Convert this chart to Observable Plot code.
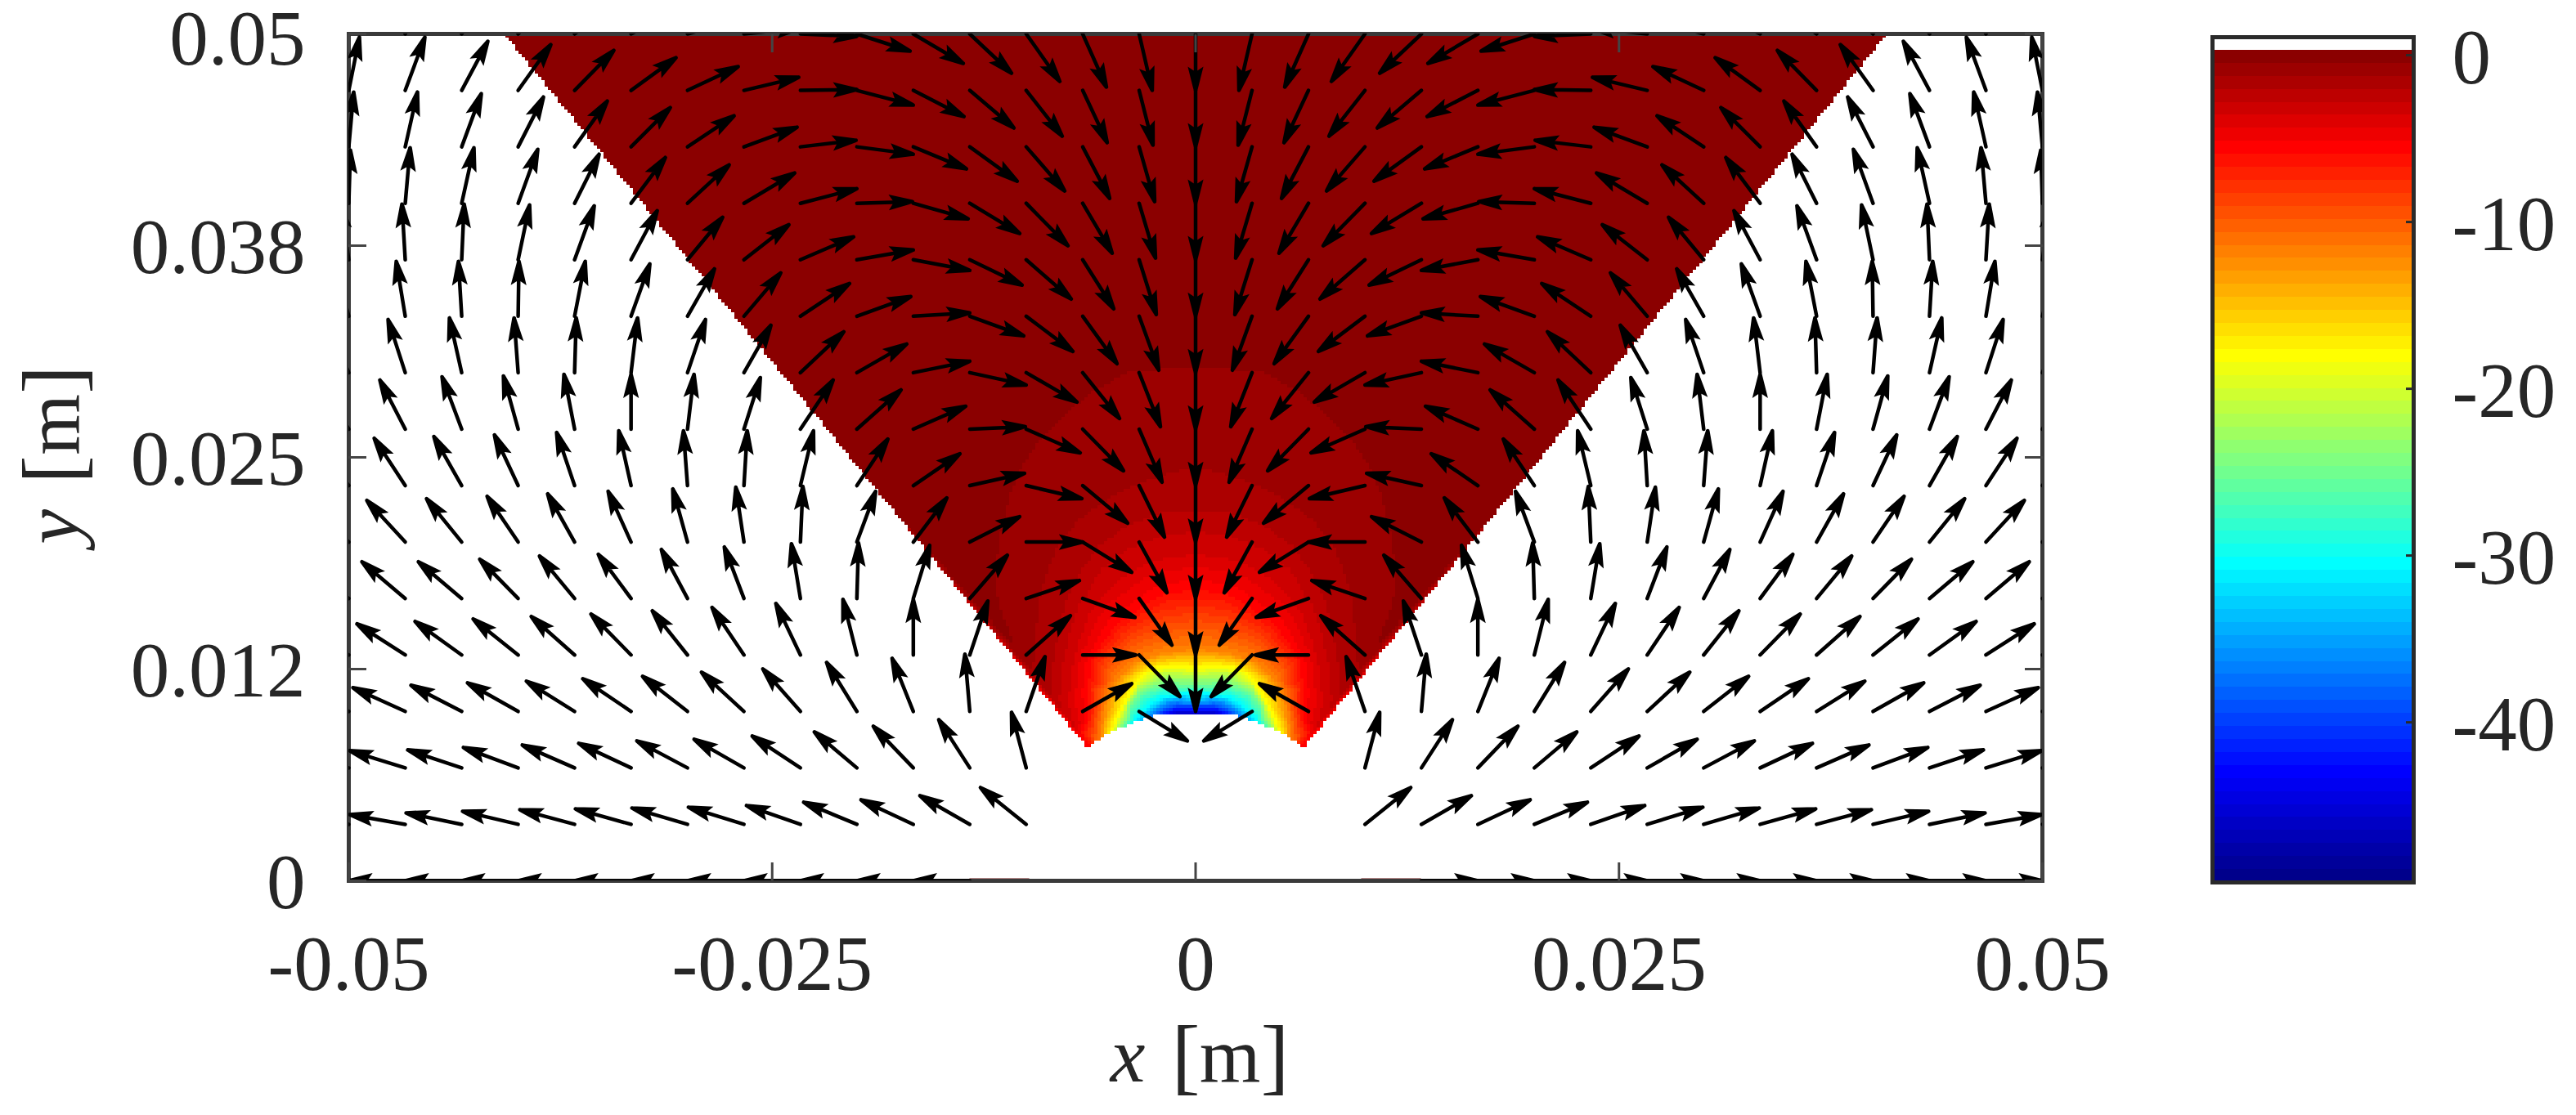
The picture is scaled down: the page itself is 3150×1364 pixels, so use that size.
<!DOCTYPE html>
<html>
<head>
<meta charset="utf-8">
<script src="https://cdn.jsdelivr.net/npm/d3@7"></script>
<script src="https://cdn.jsdelivr.net/npm/@observablehq/plot@0.6"></script>
<style>
html,body{margin:0;padding:0;background:#fff;overflow:hidden}
#chart{display:flex;width:3150px;height:1364px}
svg{display:block;flex:none}
</style>
</head>
<body>
<div id="chart"></div>
<script>
// ---- axes ----
const xTicks = [-0.05, -0.025, 0, 0.025, 0.05];
const xTickLabels = ["-0.05", "-0.025", "0", "0.025", "0.05"];
const yTicks = [0, 0.0125, 0.025, 0.0375, 0.05];
const yTickLabels = ["0", "0.012", "0.025", "0.038", "0.05"];
const barTicks = [0, -10, -20, -30, -40];

// ---- quiver field: left half, rows from y=0.05 down to y=0, columns x=-0.05 ... x=0.
// one grid spacing (0.1/30 m) = 69 units
const uRows = [
 [19,30,39,47,54,61,66,69,69,65,61,51,41,29,16,0],
 [13,24,32,40,48,55,62,67,69,69,62,54,44,30,17,0],
 [6,15,24,31,40,48,57,65,68,69,65,58,47,33,19,0],
 [2,6,15,24,30,42,51,62,69,68,67,61,51,36,20,0],
 [-10,-4,3,14,24,32,43,55,65,69,69,64,55,38,21,0],
 [-18,-11,-4,1,13,23,33,45,60,66,69,66,57,42,24,0],
 [-28,-21,-15,-5,2,8,22,33,53,61,69,69,62,45,26,0],
 [-36,-31,-24,-18,-13,0,8,20,40,54,64,68,66,50,28,0],
 [-43,-38,-34,-29,-22,-15,-5,4,16,38,57,67,68,55,31,0],
 [-50,-47,-43,-38,-33,-28,-18,-10,3,23,41,61,69,60,34,0],
 [-56,-53,-53,-47,-43,-40,-32,-24,-11,2,20,46,65,64,40,0],
 [-61,-59,-57,-55,-53,-49,-43,-39,-30,-17,0,22,54,65,50,0],
 [-65,-64,-62,-62,-59,-59,-55,-52,-46,-37,-26,-6,23,60,59,null],
 [-68,-68,-66,-67,-64,-64,-62,-61,-59,-52,-49,-38,-18,null,null,null],
 [-68,-68,-68,-68,-67,-68,-68,-68,-66,-65,-64,-61,-56,null,null,null],
 [-69,-69,-69,-69,-69,-69,-69,-69,-69,-69,-69,-69,null,null,null,null]
];
const vRows = [
 [65,62,57,50,41,30,18,7,-3,-21,-36,-48,-58,-65,-69,-69],
 [65,65,60,56,49,40,29,16,1,-18,-32,-46,-56,-64,-67,-69],
 [67,67,65,61,56,48,38,24,8,-9,-27,-42,-54,-63,-67,-69],
 [65,68,68,66,60,56,47,37,18,2,-19,-37,-52,-61,-67,-69],
 [67,68,68,67,66,60,52,43,28,12,-13,-31,-48,-60,-67,-69],
 [65,67,67,67,67,64,58,53,40,24,4,-24,-43,-58,-66,-69],
 [62,65,67,67,67,67,65,58,50,35,14,-15,-36,-56,-66,-69],
 [59,60,64,65,67,67,67,63,60,48,28,3,-29,-51,-65,-69],
 [53,58,60,62,65,67,67,67,67,57,39,15,-16,-46,-63,-69],
 [47,51,53,56,59,62,65,67,68,62,54,31,0,-37,-62,-69],
 [40,45,45,48,52,54,60,63,67,68,65,53,22,-23,-57,-69],
 [32,38,41,44,47,50,54,58,63,68,68,66,48,0,-51,-69],
 [26,29,32,35,37,40,43,48,52,60,65,70,67,34,-36,null],
 [19,21,22,25,28,30,33,35,39,44,51,59,68,null,null,null],
 [11,12,14,16,18,19,20,21,23,27,30,35,45,null,null,null],
 [0,0,0,0,0,0,0,0,0,0,0,0,null,null,null,null]
];

// ---- field value, iso-lines (left half, [x, y] in m)
const isoLevels = [0, -0.48, -1.26, -2.04, -3.6, -5.6, -12, -18.4, -25, -31, -40, -47];
const isoLines = [
 [[0,.05],[-.0409,.05],[-.03,.0366],[-.02,.0245],[-.015,.0189],[-.02,.04],[-.01,.04],[0,.04],[-.015,.03],[0,.035]],
 [[0,.03036],[-.00394,.0301],[-.0062,.0288],[-.0079,.0274],[-.0094,.0258],[-.01036,.0243],[-.011,.0227],[-.0115,.0205],[-.0118,.0185],[-.01166,.0166],[-.0107,.0138]],
 [[0,.0245],[-.00297,.02365],[-.00523,.02254],[-.00698,.02124],[-.00813,.0198],[-.00876,.0182],[-.00925,.0166],[-.0094,.01467],[-.0095,.01303],[-.0098,.0125]],
 [[0,.0219],[-.00215,.02172],[-.00408,.02095],[-.00572,.0198],[-.00683,.0182],[-.00765,.0166],[-.00804,.015],[-.00838,.01303],[-.0086,.0109]],
 [[0,.0193],[-.0021,.019],[-.0038,.0183],[-.0052,.0172],[-.0063,.0157],[-.00695,.014],[-.0073,.0125],[-.0075,.0105],[-.0071,.009]],
 [[0,.01737],[-.002,.0171],[-.0033,.01626],[-.00475,.0153],[-.00553,.0142],[-.0062,.0132],[-.00645,.01144],[-.00635,.00985],[-.0063,.0080]],
 [[0,.0137],[-.00185,.0135],[-.00345,.013],[-.00457,.01207],[-.00522,.01095],[-.00548,.00965],[-.0056,.00825]],
 [[0,.0125],[-.00137,.01264],[-.0025,.0125],[-.0033,.0119],[-.0038,.0111],[-.00426,.0103],[-.00466,.0095],[-.005,.0086]],
 [[0,.01158],[-.00185,.01168],[-.0033,.0111],[-.0039,.0103],[-.0043,.0091]],
 [[0,.0108],[-.00185,.01086],[-.0028,.0103],[-.0036,.0094]],
 [[0,.0103],[-.0012,.0103],[-.0021,.0099]],
 [[0,.0098],[-.0012,.0098]]
];
// outline of the coloured wedge, left half
const wedgeOutline = [[-.0412,.0505],[-.0064,.0079],[-.0052,.0087],[-.0036,.0094],[-.0021,.0099],[0,.0099]];

// ---- colours
const jetIndex = [0, 8, 24, 40, 56, 63];
const jetStops = ["#00008b", "#0000ff", "#00ffff", "#ffff00", "#ff0000", "#8b0000"];
const barMin = -49.6, barMax = 0.3, barTop = 1.08, bandCount = 64;

// ---- derived tables
const step = 0.1 / 30;
const arrows = [];
uRows.forEach((row, r) => {
  const y = step * (15 - r);
  row.forEach((u, c) => {
    if (u == null) return;
    const v = vRows[r][c];
    const x = -0.05 + step * c;
    const len = Math.hypot(u, v), rot = Math.atan2(u, v) * 180 / Math.PI;
    arrows.push({x, y, len, rot});
    if (c < 15) arrows.push({x: -x, y, len, rot: -rot});
  });
});
const samples = [];
isoLines.forEach((line, i) => line.forEach(([x, y]) => {
  samples.push({x, y, v: isoLevels[i]});
  if (x !== 0) samples.push({x: -x, y, v: isoLevels[i]});
}));
const wedge = [...wedgeOutline, ...wedgeOutline.slice(0, -1).reverse().map(([x, y]) => [-x, y])];
const jetScale = d3.scaleLinear().domain(jetIndex).range(jetStops).interpolate(d3.interpolateRgb);
const jet = d3.range(bandCount).map(i => jetScale(i));
const colorOptions = {type: "quantize", domain: [barMin, barMax], range: jet};
const bandH = (barMax - barMin) / bandCount;
const bands = d3.range(bandCount).map(i => ({lo: barMin + i * bandH, hi: barMin + (i + 1) * bandH}));

const barycentric = Plot.interpolatorBarycentric();
const wedgeInterpolate = (index, w, h, X, Y, V) => {
  const W = barycentric(index, w, h, X, Y, V);
  for (let j = 0; j < h; ++j) for (let i = 0; i < w; ++i) {
    const x = -0.05 + (i + 0.5) / w * 0.1, y = 0.05 - (j + 0.5) / h * 0.05;
    if (!d3.polygonContains(wedge, [x, y])) W[i + j * w] = NaN;
  }
  return W;
};

// quiver glyph: shaft plus filled, slightly swept head
const quiverShape = {
  draw(ctx, l) {
    ctx.moveTo(0, 0);
    ctx.lineTo(0, -l);
    ctx.moveTo(0, -l);
    ctx.lineTo(6, -l + 24);
    ctx.lineTo(0, -l + 20);
    ctx.lineTo(-6, -l + 24);
    ctx.closePath();
  }
};

const serif = "Liberation Serif", ink = "#262626", fs = 95;
const lookup = (ticks, labels) => d => labels[ticks.indexOf(d)];
const part = {textAnchor: "middle", lineAnchor: "middle", fontFamily: serif, fill: ink};
const tickLine = {stroke: "#444", strokeWidth: 3, label: null};

const main = Plot.plot({
  width: 2640, height: 1364,
  marginLeft: 426, marginRight: 143, marginTop: 41, marginBottom: 287,
  x: {domain: [-0.05, 0.05], label: null},
  y: {domain: [0, 0.05], label: null},
  length: {type: "identity"},
  color: colorOptions,
  style: {background: "#fff", fontFamily: serif},
  marks: [
    Plot.raster(samples, {x: "x", y: "y", fill: "v", pixelSize: 4, interpolate: wedgeInterpolate, imageRendering: "pixelated"}),
    Plot.ruleY([0], {x1: -0.01333, x2: -0.00980, stroke: "#6e1010", strokeWidth: 6, clip: true}),
    Plot.ruleY([0], {x1: 0.00980, x2: 0.01333, stroke: "#6e1010", strokeWidth: 6, clip: true}),
    Plot.frame({stroke: "#3a3a3a", strokeWidth: 5}),
    Plot.vector(arrows, {x: "x", y: "y", length: "len", rotate: "rot", anchor: "start", shape: quiverShape, stroke: "#000", fill: "#000", strokeWidth: 4.5, strokeLinejoin: "miter", clip: true}),
    Plot.axisX({anchor: "bottom", ticks: xTicks, tickSize: -22, tickFormat: () => "", ...tickLine}),
    Plot.axisX({anchor: "top", ticks: xTicks, tickSize: -22, tickFormat: () => "", ...tickLine}),
    Plot.axisY({anchor: "left", ticks: yTicks, tickSize: -22, tickFormat: () => "", ...tickLine}),
    Plot.axisY({anchor: "right", ticks: yTicks, tickSize: -22, tickFormat: () => "", ...tickLine}),
    Plot.axisX({anchor: "bottom", ticks: xTicks, tickSize: 0, tickPadding: 66, tickFormat: lookup(xTicks, xTickLabels), fontSize: fs, fill: ink, label: null}),
    Plot.axisY({anchor: "left", ticks: yTicks.slice(0, 4), tickSize: 0, tickPadding: 53, dy: 3, tickFormat: lookup(yTicks, yTickLabels), fontSize: fs, fill: ink, label: null}),
    Plot.axisY({anchor: "left", ticks: yTicks.slice(4), tickSize: 0, tickPadding: 53, dy: 7, tickFormat: lookup(yTicks, yTickLabels), fontSize: fs, fill: ink, label: null}),
    // x [m]
    Plot.text(["x"], {frameAnchor: "bottom", dx: -83, dy: 215, fontSize: 96, fontStyle: "italic", ...part}),
    Plot.text(["["], {frameAnchor: "bottom", dx: -12, dy: 215, fontSize: 104, ...part}),
    Plot.text(["m"], {frameAnchor: "bottom", dx: 42, dy: 215, fontSize: 96, ...part}),
    Plot.text(["]"], {frameAnchor: "bottom", dx: 97, dy: 215, fontSize: 104, ...part}),
    // y [m]
    Plot.text(["y"], {frameAnchor: "left", rotate: -90, dx: -361, dy: 85, fontSize: 96, fontStyle: "italic", ...part}),
    Plot.text(["["], {frameAnchor: "left", rotate: -90, dx: -361, dy: 15, fontSize: 104, ...part}),
    Plot.text(["m"], {frameAnchor: "left", rotate: -90, dx: -361, dy: -40, fontSize: 96, ...part}),
    Plot.text(["]"], {frameAnchor: "left", rotate: -90, dx: -361, dy: -95, fontSize: 104, ...part})
  ]
});

const bar = Plot.plot({
  width: 510, height: 1364,
  marginLeft: 65, marginRight: 199, marginTop: 45, marginBottom: 285,
  x: {domain: [0, 1], axis: null},
  y: {domain: [barMin, barTop], label: null},
  color: colorOptions,
  style: {background: "#fff", fontFamily: serif},
  marks: [
    Plot.rect(bands, {x1: () => 0, x2: () => 1, y1: "lo", y2: "hi", fill: d => (d.lo + d.hi) / 2, shapeRendering: "crispEdges"}),
    Plot.frame({stroke: "#2a2a2a", strokeWidth: 5}),
    Plot.axisY({anchor: "right", ticks: barTicks, tickSize: -10, tickFormat: () => "", stroke: "#2a2a2a", strokeWidth: 3, label: null}),
    Plot.axisY({anchor: "right", ticks: barTicks, tickSize: 0, tickPadding: 47, dy: 4, tickFormat: d => String(d), fontSize: fs, fill: ink, label: null})
  ]
});

document.getElementById("chart").append(main, bar);
</script>
</body>
</html>
